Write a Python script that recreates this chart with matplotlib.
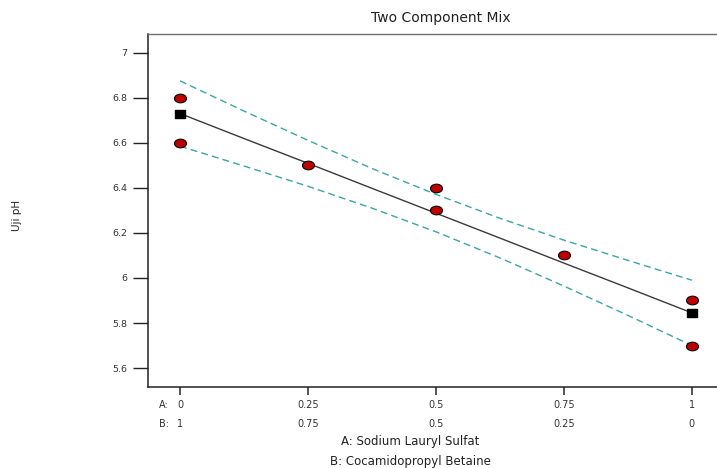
import matplotlib
matplotlib.use('Agg')
import matplotlib.pyplot as plt
from matplotlib.path import Path
from matplotlib.transforms import Affine2D

plt.rcParams['font.family'] = ['DejaVu Sans']

# observed design points
obs_x = [0, 0, 0.25, 0.5, 0.5, 0.75, 1, 1]
obs_y = [6.8, 6.6, 6.5, 6.4, 6.3, 6.1, 5.9, 5.7]

# pure component predictions (squares)
pure_x = [0, 1]
pure_y = [6.73, 5.845]

# fitted line and confidence band
band_x = [0, 0.125, 0.25, 0.375, 0.5, 0.625, 0.75, 0.875, 1]
fit_y = [6.73, 6.619, 6.509, 6.398, 6.2875, 6.177, 6.066, 5.956, 5.845]
upper_y = [6.875, 6.741, 6.611, 6.486, 6.371, 6.265, 6.168, 6.078, 5.99]
lower_y = [6.585, 6.497, 6.407, 6.310, 6.205, 6.089, 5.964, 5.834, 5.70]

a_ticks = [0, 0.25, 0.5, 0.75, 1]
a_labels = ['0', '0.25', '0.5', '0.75', '1']
b_labels = ['1', '0.75', '0.5', '0.25', '0']
y_ticks = [5.6, 5.8, 6.0, 6.2, 6.4, 6.6, 6.8, 7.0]
y_labels = ['5.6', '5.8', '6', '6.2', '6.4', '6.6', '6.8', '7']

# the source image is stretched sideways, so markers are a bit wide
oval = Path.unit_circle().transformed(Affine2D().scale(1.0, 0.72))
wide_sq = Path([(-1, -0.75), (1, -0.75), (1, 0.75), (-1, 0.75), (-1, -0.75)],
               [Path.MOVETO, Path.LINETO, Path.LINETO, Path.LINETO, Path.CLOSEPOLY])

fig = plt.figure(figsize=(7.17, 4.68), dpi=100)
ax = fig.add_axes([148 / 717, 81 / 468, 569 / 717, 353 / 468])

ax.plot(band_x, fit_y, color='#3a3a3a', linewidth=1.0, zorder=2)
ax.plot(band_x, upper_y, color='#3aa6a6', linewidth=1.0, linestyle=(0, (5, 3)), zorder=2)
ax.plot(band_x, lower_y, color='#3aa6a6', linewidth=1.0, linestyle=(0, (5, 3)), zorder=2)
ax.scatter(obs_x, obs_y, s=75, marker=oval, facecolor='#c00000', edgecolor='black',
           linewidth=0.8, zorder=4, clip_on=False)
ax.scatter(pure_x, pure_y, s=60, marker=wide_sq, facecolor='black', edgecolor='black',
           zorder=3, clip_on=False)

ax.set_xlim(-0.0625, 1.049)
ax.set_ylim(5.516, 7.083)
ax.spines['right'].set_visible(False)
ax.spines['top'].set_color('#707070')
ax.spines['top'].set_linewidth(1.0)
for s in ['left', 'bottom']:
    ax.spines[s].set_linewidth(1.1)
    ax.spines[s].set_color('#222222')

ax.set_yticks(y_ticks)
ax.set_yticklabels(y_labels, fontsize=6.8, color='#333333')
ax.tick_params(axis='y', length=11, width=1.0, pad=4, color='#222222')

ax.set_xticks(a_ticks)
ax.set_xticklabels([])
ax.tick_params(axis='x', length=6, width=1.1, color='#222222')

tr = ax.get_xaxis_transform()
for x, la, lb in zip(a_ticks, a_labels, b_labels):
    ax.text(x, -0.05, la, transform=tr, ha='center', va='center', fontsize=7, color='#333333')
    ax.text(x, -0.105, lb, transform=tr, ha='center', va='center', fontsize=7, color='#333333')
ax.text(-0.032, -0.05, 'A:', transform=tr, ha='center', va='center', fontsize=7, color='#333333')
ax.text(-0.032, -0.105, 'B:', transform=tr, ha='center', va='center', fontsize=7, color='#333333')

fig.text(410 / 717, 1 - 442 / 468, 'A: Sodium Lauryl Sulfat', ha='center', va='center',
         fontsize=8.5, color='#222222')
fig.text(410 / 717, 1 - 461 / 468, 'B: Cocamidopropyl Betaine', ha='center', va='center',
         fontsize=8.5, color='#222222')
fig.text(441 / 717, 1 - 18 / 468, 'Two Component Mix', ha='center', va='center',
         fontsize=10, color='#222222')
fig.text(17 / 717, 1 - 215 / 468, 'Uji pH', ha='center', va='center', rotation=90,
         fontsize=7.5, color='#222222')

fig.savefig('out.png', dpi=100)
